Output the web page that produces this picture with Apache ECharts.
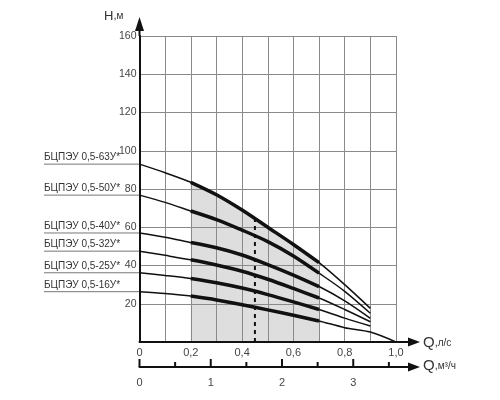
<!DOCTYPE html>
<html><head><meta charset="utf-8">
<script src="https://cdn.jsdelivr.net/npm/echarts@6/dist/echarts.min.js"></script>
<style>html,body{margin:0;padding:0;background:#fff}#c{width:500px;height:400px}</style>
</head><body><div id="c"></div>
<script>
// Flow Q, l/s
const qLs = [0, 0.1, 0.2, 0.3, 0.4, 0.5, 0.6, 0.7, 0.8, 0.9, 1.0];
const pumpNames = ['БЦПЭУ 0,5-63У*', 'БЦПЭУ 0,5-50У*', 'БЦПЭУ 0,5-40У*', 'БЦПЭУ 0,5-32У*', 'БЦПЭУ 0,5-25У*', 'БЦПЭУ 0,5-16У*'];
// Head H, m
const h63 = [93, 88.5, 83.5, 77, 69, 60, 51, 41.5, 30, 17.6];
const h50 = [76.8, 73, 68.5, 64, 58.5, 52.5, 45, 36, 26.5, 15];
const h40 = [57, 54.8, 52, 49.3, 45.5, 40.5, 35, 29, 21.5, 12.4];
const h32 = [47.5, 45.3, 43, 40.3, 37, 32.8, 28, 23, 17, 10.6];
const h25 = [36.2, 34.8, 33.2, 31, 28.2, 24.8, 21, 17, 12.5, 8.4];
const h16 = [26.3, 25.3, 24, 22, 19.5, 16.8, 14, 11, 7.5, 5.2, 0];
const heads = [h63, h50, h40, h32, h25, h16];
// working range (l/s) and duty point
const workRange = [0.2, 0.7];
const dutyQ = 0.45;
const dutyH = 65;
// axis ticks
const yTicks = [0, 20, 40, 60, 80, 100, 120, 140, 160];
const qM3hMax = 3.6;
const m3hTicks = [0, 0.5, 1, 1.5, 2, 2.5, 3, 3.5];

const FONT = 'Liberation Sans, Arial, sans-serif';
const chart = echarts.init(document.getElementById('c'));

function pts(h, lo, hi) {
  const out = [];
  h.forEach((v, i) => { const x = qLs[i]; if (x >= lo - 1e-9 && x <= hi + 1e-9) out.push([x, v]); });
  return out;
}

const series = [];
series.push({
  type: 'line', data: pts(h63, workRange[0], workRange[1]), smooth: 0.3, symbol: 'none',
  lineStyle: { width: 0 }, areaStyle: { color: '#dedede', opacity: 1 }, z: -1, silent: true
});
heads.forEach((h, k) => {
  series.push({
    type: 'line', name: pumpNames[k], data: pts(h, 0, 1), smooth: 0.3, symbol: 'none',
    lineStyle: { color: '#111', width: 1.5 }, z: 3
  });
  series.push({
    type: 'line', data: pts(h, workRange[0], workRange[1]), smooth: 0.3, symbol: 'none',
    lineStyle: { color: '#111', width: 3.5 }, z: 4
  });
});
series.push({
  type: 'line', data: [[dutyQ, 0], [dutyQ, dutyH]], symbol: 'none',
  lineStyle: { color: '#111', width: 2, type: [4, 4] }, z: 5
});

chart.setOption({
  animation: false,
  textStyle: { fontFamily: FONT },
  grid: { left: 139.5, right: 104, top: 36, bottom: 58 },
  xAxis: [{
    type: 'value', min: 0, max: 1, interval: 0.1,
    axisLine: { lineStyle: { color: '#111', width: 2 } },
    axisTick: { show: false },
    splitLine: { show: true, lineStyle: { color: '#8a8a8a', width: 1 } },
    axisLabel: {
      color: '#444', fontSize: 11, margin: 5,
      formatter: v => (Math.round(v * 10) % 2 === 0) ? (v === 0 ? '0' : v.toFixed(1).replace('.', ',')) : ''
    }
  }, {
    type: 'value', min: 0, max: qM3hMax, interval: 1, position: 'bottom', offset: 25,
    axisLine: { onZero: false, lineStyle: { color: '#111', width: 2 } },
    axisTick: { show: false },
    splitLine: { show: false },
    axisLabel: { color: '#444', fontSize: 11, margin: 10, showMaxLabel: false,
      formatter: v => (Math.abs(v - Math.round(v)) < 1e-9) ? String(Math.round(v)) : '' }
  }],
  yAxis: {
    type: 'value', min: yTicks[0], max: yTicks[yTicks.length - 1], interval: yTicks[1] - yTicks[0],
    axisLine: { show: true, lineStyle: { color: '#111', width: 2 } },
    axisTick: { show: false },
    splitLine: { show: true, lineStyle: { color: '#8a8a8a', width: 1 } },
    axisLabel: { color: '#444', fontSize: 10.5, margin: 3, formatter: v => v === 0 ? '' : String(v) }
  },
  series: series
});

const P = (x, y) => chart.convertToPixel({ xAxisIndex: 0, yAxisIndex: 0 }, [x, y]);
// m³/h positions: 3.6 m³/h equals 1 l/s, so the l/s scale positions the m³/h ticks
const P2 = x => P(x / qM3hMax, 0)[0];
const org = P(0, 0), topPt = P(0, yTicks[yTicks.length - 1]), rightPt = P(1, 0);
const yB = org[1] + 25;
const g = [];
const black = { stroke: '#111', lineWidth: 2 };
g.push({ type: 'line', shape: { x1: org[0], y1: topPt[1], x2: org[0], y2: topPt[1] - 8 }, style: black });
g.push({ type: 'polygon', shape: { points: [[org[0] - 4.5, topPt[1] - 5], [org[0] + 4.5, topPt[1] - 5], [org[0], topPt[1] - 19]] }, style: { fill: '#111' } });
[org[1], yB].forEach(yy => {
  g.push({ type: 'line', shape: { x1: rightPt[0], y1: yy, x2: rightPt[0] + 14, y2: yy }, style: black });
  g.push({ type: 'polygon', shape: { points: [[rightPt[0] + 12, yy - 4.5], [rightPt[0] + 12, yy + 4.5], [rightPt[0] + 24, yy]] }, style: { fill: '#111' } });
});
// ticks of the m³/h axis
m3hTicks.forEach(t => {
  const px = P2(t);
  const len = (Math.abs(t - Math.round(t)) < 1e-9) ? 8 : 5;
  g.push({ type: 'rect', shape: { x: px - 1, y: yB - len, width: 2, height: len }, style: { fill: '#111' } });
});
const rich = { a: { fontSize: 15, fill: '#333', fontFamily: FONT }, b: { fontSize: 10, fill: '#333', fontFamily: FONT } };
g.push({ type: 'text', x: 104, y: 16, style: { text: '{a|H},{b|м}', rich: { a: { fontSize: 13, fill: '#333', fontFamily: FONT }, b: { fontSize: 10, fill: '#333', fontFamily: FONT } }, verticalAlign: 'middle', fill: '#333', fontSize: 11, fontFamily: FONT } });
g.push({ type: 'text', x: rightPt[0] + 27, y: org[1] + 1, style: { text: '{a|Q},{b|л/с}', rich: rich, verticalAlign: 'middle', fill: '#333', fontSize: 11, fontFamily: FONT } });
g.push({ type: 'text', x: rightPt[0] + 27, y: yB - 1, style: { text: '{a|Q},{b|м³/ч}', rich: rich, verticalAlign: 'middle', fill: '#333', fontSize: 11, fontFamily: FONT } });
heads.forEach((h, k) => {
  const p = P(0, h[0]);
  g.push({ type: 'line', shape: { x1: 44, y1: p[1], x2: org[0], y2: p[1] }, style: { stroke: '#777', lineWidth: 1 } });
  g.push({ type: 'text', x: 44, y: p[1] - 1.5, style: { text: pumpNames[k], fill: '#333', fontSize: 10, fontFamily: FONT, verticalAlign: 'bottom' } });
});
chart.setOption({ graphic: g });
</script>
</body></html>
